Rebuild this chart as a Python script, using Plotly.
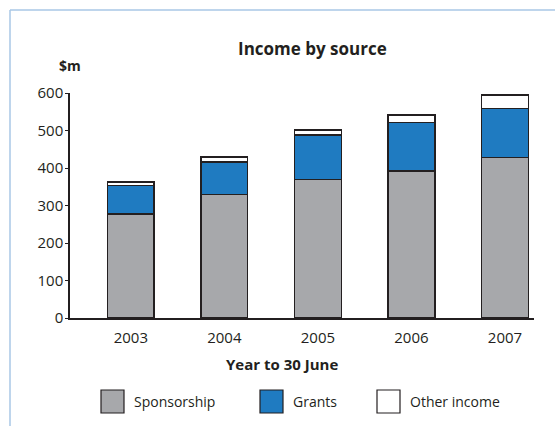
import plotly.graph_objects as go

years = ["2003", "2004", "2005", "2006", "2007"]
sponsorship = [278, 330, 369, 392, 428]
grants = [76, 86, 119, 130, 131]
other_income = [9, 14, 13, 20, 36]
series_names = ["Sponsorship", "Grants", "Other income"]
series_colors = ["#a7a8ab", "#1f7bc1", "#ffffff"]
y_ticks = [0, 100, 200, 300, 400, 500, 600]

W, H = 555, 426
L, R, T, B = 70, 21, 93, 108
PW, PH = W - L - R, H - T - B

def px(x):
    return (x - L) / PW

def py(y):
    return (H - B - y) / PH

FONT = "Open Sans"
INK = "#231f20"

fig = go.Figure()
for name, vals, col in zip(series_names, [sponsorship, grants, other_income], series_colors):
    fig.add_trace(go.Bar(
        x=years, y=vals, name=name, width=0.5,
        marker=dict(color=col, line=dict(color=INK, width=1.5)),
        showlegend=False,
    ))

shapes = [
    dict(type="line", xref="paper", yref="paper", x0=px(10), x1=px(556), y0=py(10), y1=py(10),
         line=dict(color="#a8c7e6", width=1.5)),
    dict(type="line", xref="paper", yref="paper", x0=px(10), x1=px(10), y0=py(10), y1=py(427),
         line=dict(color="#a8c7e6", width=1.5)),
]
annotations = [
    dict(text="<b>Income by source</b>", xref="paper", yref="paper", x=px(312), y=py(48),
         showarrow=False, font=dict(family=FONT, size=17, color=INK), xanchor="center", yanchor="middle"),
    dict(text="<b>$m</b>", xref="paper", yref="paper", x=px(70), y=py(66),
         showarrow=False, font=dict(family=FONT, size=14, color=INK), xanchor="center", yanchor="middle"),
    dict(text="<b>Year to 30 June</b>", xref="paper", yref="paper", x=px(282), y=py(364),
         showarrow=False, font=dict(family=FONT, size=15, color=INK), xanchor="center", yanchor="middle"),
]
legend_pos = [(101, 132), (260, 291), (377, 408)]
for (sx, tx), name, col in zip(legend_pos, series_names, series_colors):
    shapes.append(dict(type="rect", xref="paper", yref="paper", x0=px(sx), x1=px(sx + 23),
                       y0=py(390), y1=py(413), fillcolor=col, line=dict(color=INK, width=1.2)))
    annotations.append(dict(text=name, xref="paper", yref="paper", x=px(tx), y=py(401),
                            showarrow=False, xanchor="left", yanchor="middle",
                            font=dict(family=FONT, size=14, color=INK)))

fig.update_layout(
    barmode="stack",
    width=W, height=H,
    margin=dict(l=L, r=R, t=T, b=B, pad=0),
    paper_bgcolor="white", plot_bgcolor="white",
    font=dict(family=FONT, size=14, color=INK),
    shapes=shapes, annotations=annotations,
    xaxis=dict(type="category", range=[-0.65, 4.31], showline=True, linecolor=INK, linewidth=1.5,
               ticks="", showgrid=False, zeroline=False, ticklabelstandoff=5,
               tickfont=dict(size=15, color=INK)),
    yaxis=dict(range=[0, 600], tickvals=y_ticks, showline=True, linecolor=INK, linewidth=1.5,
               ticks="outside", ticklen=3, tickcolor=INK, tickwidth=1, showgrid=False, zeroline=False,
               ticklabelstandoff=-1, tickfont=dict(size=15, color=INK)),
)
fig.write_html("out.html")
